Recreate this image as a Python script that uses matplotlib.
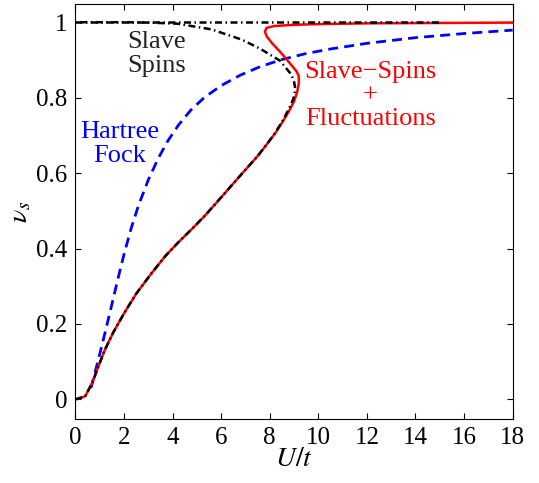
import matplotlib
matplotlib.use("Agg")
import matplotlib.pyplot as plt

plt.rcParams['font.family'] = 'serif'
plt.rcParams['font.serif'] = ['Liberation Serif', 'Nimbus Roman', 'Times New Roman', 'DejaVu Serif']
plt.rcParams['mathtext.fontset'] = 'stix'

# Slave-Spins + Fluctuations (red)
ssf_u = [0, 0.4, 0.7, 0.94, 1.21, 1.56, 2.0, 2.5, 3.14, 3.7, 4.23, 4.8, 5.33, 5.8,
         6.29, 6.7, 7.1, 7.5, 7.9, 8.25, 8.55, 8.8, 9.0, 9.13, 9.2, 9.19, 9.1, 8.96,
         8.7, 8.42, 8.1, 7.88, 7.8, 7.87, 8.2, 9.0, 10.0, 12.0, 15.0, 18.0]
ssf_nu = [0, 0.008, 0.045, 0.087, 0.131, 0.178, 0.228, 0.28, 0.335, 0.380, 0.416, 0.452,
          0.487, 0.521, 0.557, 0.587, 0.616, 0.645, 0.678, 0.708, 0.738, 0.765, 0.79,
          0.815, 0.84, 0.858, 0.87, 0.881, 0.901, 0.922, 0.944, 0.962, 0.975, 0.985,
          0.99, 0.993, 0.995, 0.997, 0.998, 0.999]

# Slave spins (black, S-shaped branch)
ss_u = [0, 0.4, 0.7, 0.94, 1.21, 1.56, 2.0, 2.5, 3.14, 3.7, 4.23, 4.8, 5.33, 5.8,
        6.29, 6.7, 7.1, 7.5, 7.9, 8.25, 8.55, 8.8, 8.96, 9.03, 9.04, 9.0, 8.92, 8.83,
        8.42, 7.6, 6.84, 5.6, 4.2, 3.0, 2.0, 1.0, 0]
ss_nu = [0, 0.008, 0.045, 0.087, 0.131, 0.178, 0.228, 0.28, 0.335, 0.380, 0.416, 0.452,
         0.487, 0.521, 0.557, 0.587, 0.616, 0.645, 0.678, 0.709, 0.741, 0.772, 0.795,
         0.812, 0.828, 0.843, 0.856, 0.866, 0.898, 0.93, 0.954, 0.981, 0.996, 0.999,
         1.0, 1.0, 1.0]
# Slave spins, upper branch
ss_up_u = [0, 5, 10, 15]
ss_up_nu = [1.0, 1.0, 1.0, 1.0]

# Hartree Fock (blue)
hf_u = [0.64, 0.8, 1.0, 1.25, 1.5, 1.75, 2.0, 2.3, 2.6, 3.0, 3.4, 3.8, 4.25, 4.75,
        5.3, 6.0, 6.8, 7.6, 8.5, 9.5, 10.5, 12.0, 14.0, 16.0, 18.0]
hf_nu = [0.03, 0.07, 0.12, 0.185, 0.252, 0.32, 0.385, 0.455, 0.515, 0.582, 0.638, 0.685,
         0.728, 0.767, 0.80, 0.832, 0.86, 0.882, 0.901, 0.917, 0.929, 0.944, 0.959,
         0.970, 0.979]

fig = plt.figure(figsize=(5.39, 4.83), dpi=100)
ax = fig.add_axes([0.140, 0.1325, 0.811, 0.859])

dashdot = (0, (2.8, 1.4, 0.6, 1.4))
ax.plot(hf_u, hf_nu, color='#0000ff', lw=2.0, linestyle=(0, (3.6, 2.2)))
ax.plot(ssf_u, ssf_nu, color='#ff0000', lw=1.8)
ax.plot(ss_up_u, ss_up_nu, color='k', lw=1.8, linestyle=dashdot)
ax.plot(ss_u, ss_nu, color='k', lw=1.8, linestyle=dashdot)

ax.text(3.34, 0.915, "Slave\nSpins", color='#222222', fontsize=19,
        ha='center', va='center', linespacing=1.1)
ax.text(1.83, 0.678, "Hartree\nFock", color='#0000ff', fontsize=19,
        ha='center', va='center', linespacing=1.1)
ax.text(12.15, 0.805, "Slave\u2212Spins\n+\nFluctuations", color='#ff0000', fontsize=19,
        ha='center', va='center', linespacing=1.1)

ax.set_xlim(0, 18)
ax.set_ylim(-0.052, 1.048)
ax.set_xticks(range(0, 19, 2))
ax.set_yticks([0, 0.2, 0.4, 0.6, 0.8, 1.0])
ax.set_yticklabels(['0', '0.2', '0.4', '0.6', '0.8', '1'])
ax.tick_params(direction='in', top=True, right=True, length=4, width=0.8,
               labelsize=18, pad=6)
ax.set_xlabel(r'$U/t$', fontsize=20, labelpad=-2)
ax.set_ylabel(r'$\nu_s$', fontsize=20, labelpad=2)

fig.savefig("out.png", dpi=100)
